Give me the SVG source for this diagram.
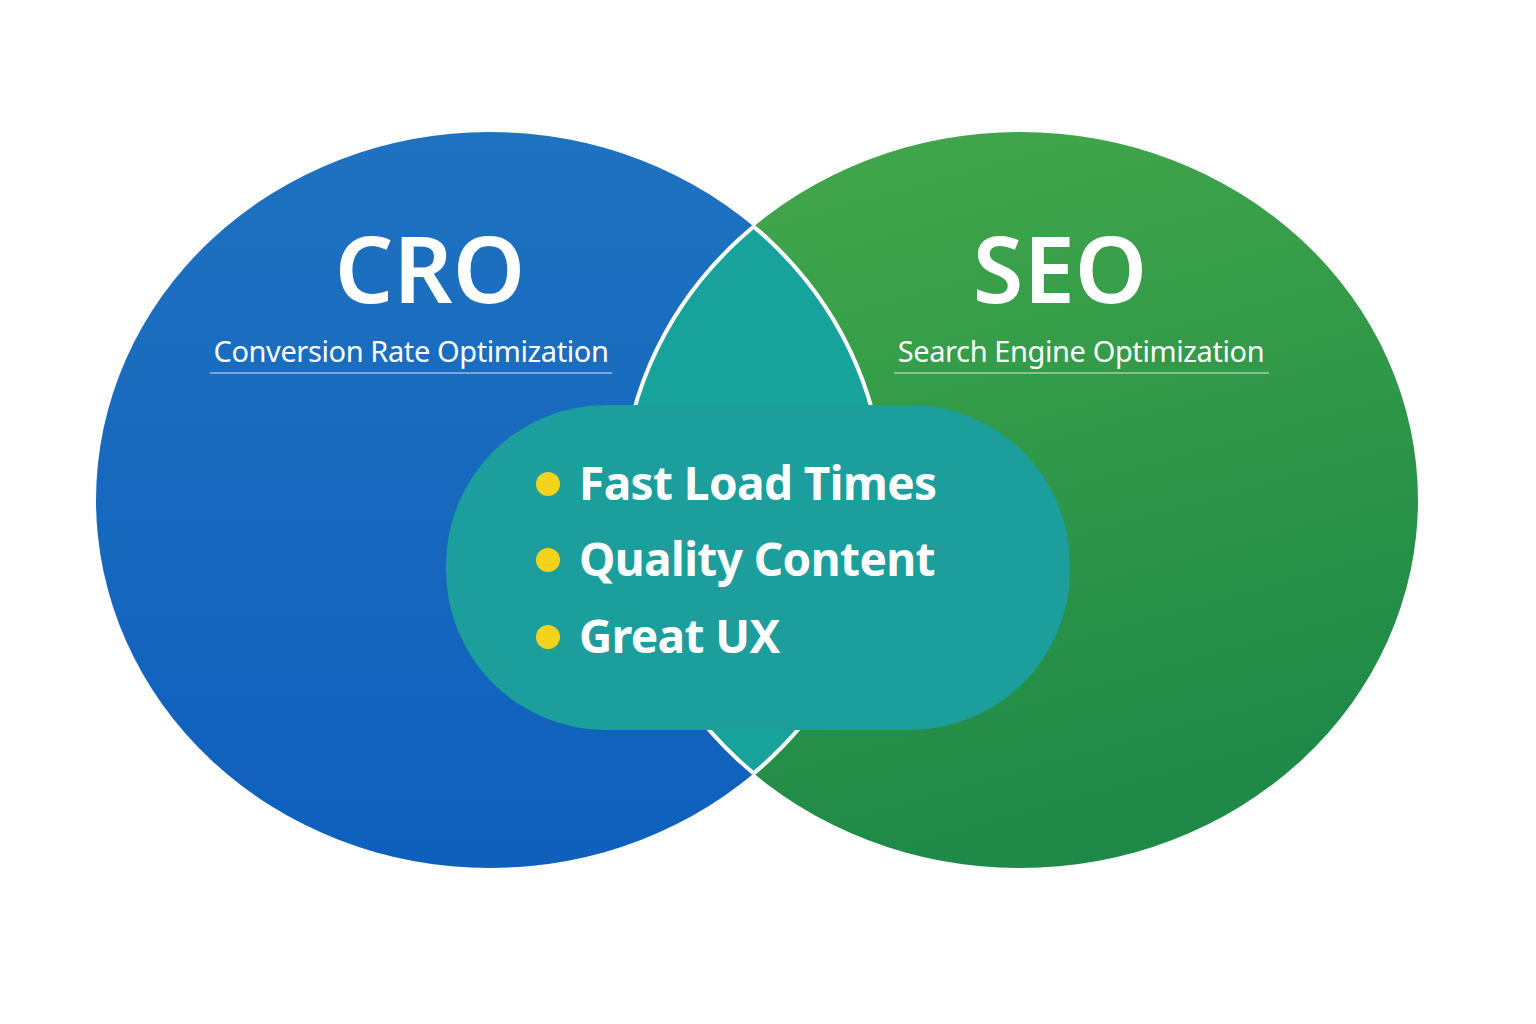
<svg xmlns="http://www.w3.org/2000/svg" width="1536" height="1024" viewBox="0 0 1536 1024">
<defs>
<linearGradient id="gb" x1="0" y1="0" x2="0" y2="1"><stop offset="0" stop-color="#1f72c0"/><stop offset="1" stop-color="#0f5fbd"/></linearGradient>
<linearGradient id="gg" x1="0" y1="0" x2="0.3" y2="1"><stop offset="0" stop-color="#45a94a"/><stop offset="1" stop-color="#1f8a48"/></linearGradient>
<clipPath id="cl"><ellipse cx="490" cy="500" rx="394" ry="368"/></clipPath>
<clipPath id="cr"><ellipse cx="1020" cy="500" rx="398" ry="368"/></clipPath>
<style>
.t{font-family:"Noto Sans","Open Sans",sans-serif;fill:#fff}
.h{font-size:92px;font-weight:600}
.s{font-size:29px;letter-spacing:-0.4px}
.b{font-size:46px;font-weight:700;letter-spacing:-0.6px}
.u{stroke:#fff;stroke-width:1.2;opacity:.8}
.d{fill:#f5d31d}
</style>
</defs>
<rect width="1536" height="1024" fill="#fff"/>
<g id="cro"><ellipse cx="490" cy="500" rx="394" ry="368" fill="url(#gb)"/></g>
<g id="seo"><ellipse cx="1020" cy="500" rx="398" ry="368" fill="url(#gg)"/></g>
<g id="overlap">
<ellipse cx="1020" cy="500" rx="398" ry="368" fill="#17a39c" stroke="#fff" stroke-width="4" clip-path="url(#cl)"/>
<ellipse cx="490" cy="500" rx="394" ry="368" fill="none" stroke="#fff" stroke-width="4" clip-path="url(#cr)"/>
<rect x="446" y="405" width="624" height="325" rx="160" fill="#1b9e9c"/>
</g>
<g id="labels">
<text class="t h" x="430" y="303" text-anchor="middle">CRO</text>
<text class="t s" x="411" y="362" text-anchor="middle">Conversion Rate Optimization</text>
<line class="u" x1="210" y1="373" x2="612" y2="373"/>
<text class="t h" x="1060" y="303" text-anchor="middle">SEO</text>
<text class="t s" x="1081" y="362" text-anchor="middle">Search Engine Optimization</text>
<line class="u" x1="894" y1="373" x2="1269" y2="373"/>
</g>
<g id="list">
<circle class="d" cx="548" cy="484" r="12"/>
<circle class="d" cx="548" cy="560" r="12"/>
<circle class="d" cx="548" cy="637" r="12"/>
<text class="t b" x="579" y="500">Fast Load Times</text>
<text class="t b" x="579" y="576">Quality Content</text>
<text class="t b" x="579" y="653">Great UX</text>
</g>
</svg>
